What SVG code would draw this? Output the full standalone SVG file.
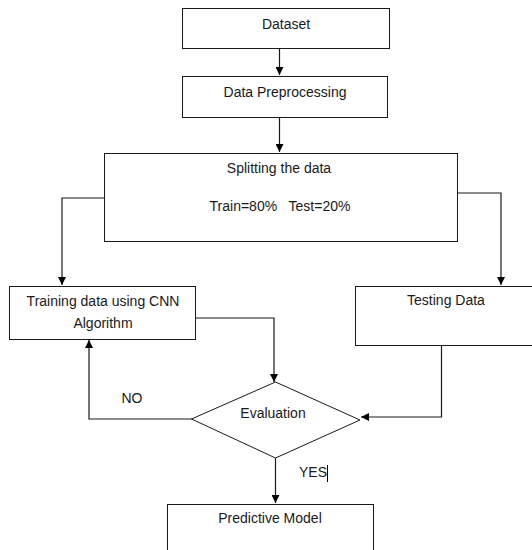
<svg xmlns="http://www.w3.org/2000/svg" width="532" height="550" viewBox="0 0 532 550">
<defs>
<marker id="ah" viewBox="0 0 10 10" refX="10" refY="5" markerWidth="8" markerHeight="8" markerUnits="userSpaceOnUse" orient="auto">
<path d="M0,0 L10,5 L0,10 z" fill="#000"/>
</marker>
</defs>
<style>
.box{fill:#fff;stroke:#1a1a1a;stroke-width:1}
.t{font-family:"Liberation Sans",Arial,sans-serif;font-size:14px;fill:#1a1a1a;text-anchor:middle}
.c{fill:none;stroke:#1a1a1a;stroke-width:1.2;marker-end:url(#ah)}
</style>
<rect width="532" height="550" fill="#fff"/>
<g id="connectors">
<path class="c" d="M279.5,48 V75"/>
<path class="c" d="M279.5,117 V152"/>
<path class="c" d="M104,198 H62 V285"/>
<path class="c" d="M458,193 H501 V285"/>
<path class="c" d="M196,318 H274 V382"/>
<path class="c" d="M192,419 H89 V340"/>
<path class="c" d="M441.5,345 V417 H361"/>
<path class="c" d="M275.5,458 V503"/>
</g>
<g id="dataset">
<rect class="box" x="182.5" y="8.5" width="207" height="40"/>
<text class="t" x="286" y="29">Dataset</text>
</g>
<g id="preprocessing">
<rect class="box" x="182.5" y="76.5" width="205" height="41"/>
<text class="t" x="285" y="97">Data Preprocessing</text>
</g>
<g id="splitting">
<rect class="box" x="104.5" y="153.5" width="353" height="88"/>
<text class="t" x="279" y="173">Splitting the data</text>
<text class="t" x="280" y="211" xml:space="preserve">Train=80%   Test=20%</text>
</g>
<g id="training">
<rect class="box" x="9.5" y="286.5" width="186" height="53"/>
<text class="t" x="103" y="306">Training data using CNN</text>
<text class="t" x="103" y="328">Algorithm</text>
</g>
<g id="testing">
<rect class="box" x="355.5" y="286.5" width="190" height="59"/>
<text class="t" x="446" y="305">Testing Data</text>
</g>
<g id="evaluation">
<polygon class="box" points="275.5,382 360,420 275.5,458 191.5,419"/>
<text class="t" x="273" y="418">Evaluation</text>
</g>
<g id="labels">
<text class="t" x="132" y="403">NO</text>
<text class="t" x="327" y="477" style="text-anchor:end">YES</text>
<line x1="327.5" y1="465" x2="327.5" y2="482" stroke="#000" stroke-width="1"/>
</g>
<g id="predictive">
<rect class="box" x="167.5" y="504.5" width="206" height="60"/>
<text class="t" x="270" y="523">Predictive Model</text>
</g>
</svg>
